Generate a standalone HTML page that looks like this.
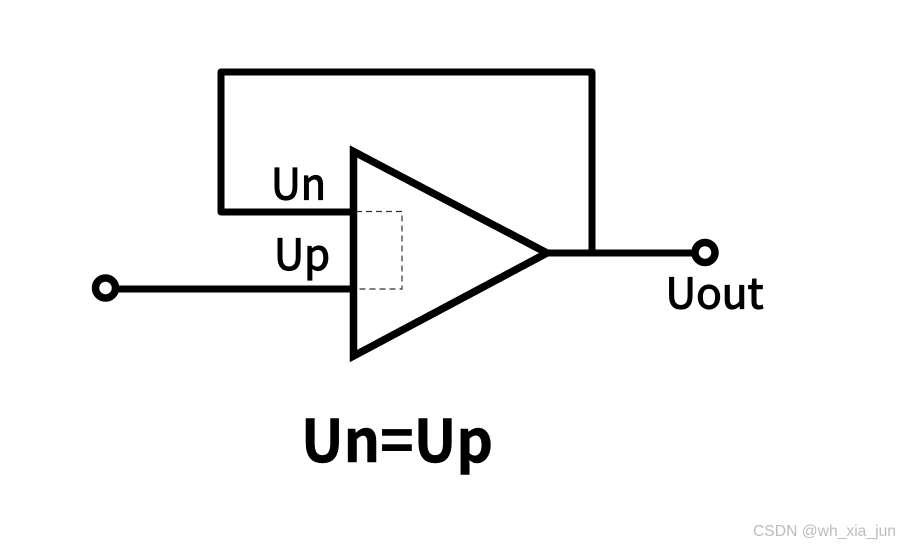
<!DOCTYPE html>
<html>
<head>
<meta charset="utf-8">
<style>
html,body{margin:0;padding:0;background:#fff;}
body{width:899px;height:546px;overflow:hidden;}
svg{display:block;}
</style>
</head>
<body>
<svg width="899" height="546" viewBox="0 0 899 546" xmlns="http://www.w3.org/2000/svg">
<rect width="899" height="546" fill="#fff"/>
<g fill="none" stroke="#000" stroke-width="7">
<polygon points="353.500,151.500 547,253 353.500,356" stroke-width="7.500"/>
<polyline points="353,212 221,212 221,72 592,72 592,253" stroke-linejoin="round" stroke-linecap="round"/>
<line x1="546" y1="253" x2="695" y2="253"/>
<line x1="117" y1="289" x2="353" y2="289"/>
<circle cx="105.500" cy="288" r="10" stroke-width="7.500"/>
<circle cx="705" cy="252.500" r="10" stroke-width="7.500"/>
</g>
<polyline points="356,211.500 402,211.500 402,289 356,289" fill="none" stroke="#333" stroke-width="1.200" stroke-dasharray="6,4"/>
<g fill="#000" style="font-family:'Noto Sans CJK SC',sans-serif">
<text x="271" y="199.500" font-size="43" stroke="#000" stroke-width="1.200" textLength="55" lengthAdjust="spacingAndGlyphs">Un</text>
<text x="274" y="270" font-size="43" stroke="#000" stroke-width="1.200" textLength="56" lengthAdjust="spacingAndGlyphs">Up</text>
<text x="665.500" y="308.500" font-size="42" stroke="#000" stroke-width="1.200" textLength="98" lengthAdjust="spacingAndGlyphs">Uout</text>
<text x="301" y="462" font-size="59" font-weight="700" stroke="#000" stroke-width="0.600" textLength="192" lengthAdjust="spacingAndGlyphs">Un=Up</text>
</g>
<text x="753" y="536" font-family="'Liberation Sans',sans-serif" font-size="16" fill="#bdbdbd" textLength="143" lengthAdjust="spacingAndGlyphs">CSDN @wh_xia_jun</text>
</svg>
</body>
</html>
